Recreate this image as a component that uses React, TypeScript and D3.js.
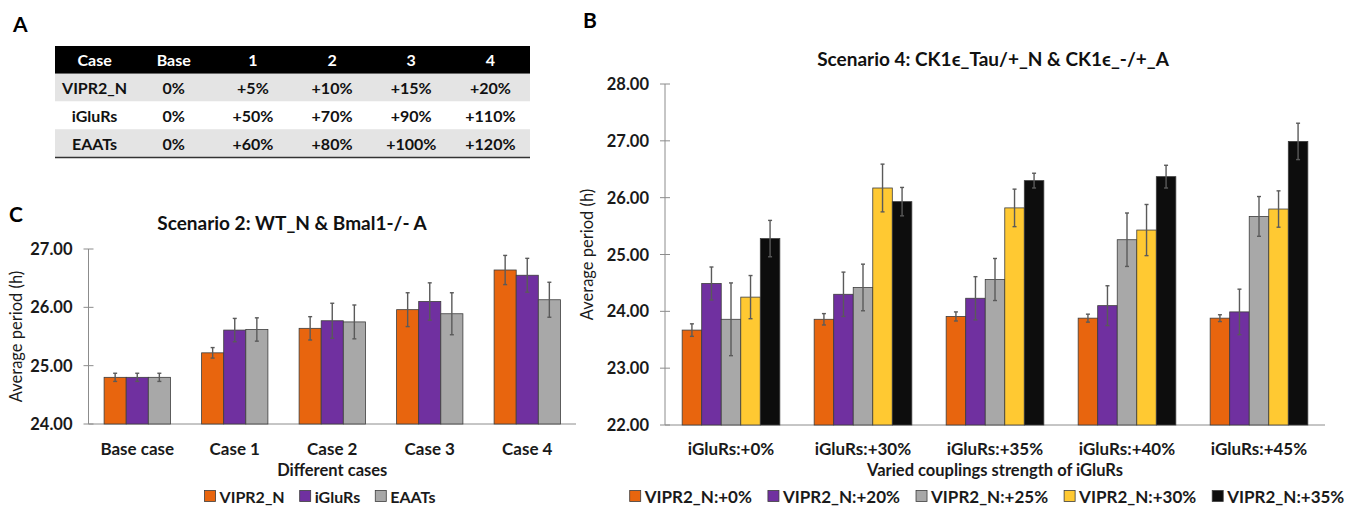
import React, { useEffect, useRef } from "react";
import * as d3 from "d3";

const W = 1366,
  H = 512;
const FONT = "Lato, 'Open Sans', sans-serif";

// panel A table
const tableHead = ["Case", "Base", "1", "2", "3", "4"];
const tableVipr2 = ["VIPR2_N", "0%", "+5%", "+10%", "+15%", "+20%"];
const tableIglurs = ["iGluRs", "0%", "+50%", "+70%", "+90%", "+110%"];
const tableEaats = ["EAATs", "0%", "+60%", "+80%", "+100%", "+120%"];

// panel C
const casesC = ["Base case", "Case 1", "Case 2", "Case 3", "Case 4"];
const seriesC = ["VIPR2_N", "iGluRs", "EAATs"];
const vipr2C = [24.8, 25.22, 25.64, 25.96, 26.64];
const vipr2ErrC = [0.07, 0.09, 0.2, 0.29, 0.25];
const iglursC = [24.8, 25.61, 25.77, 26.1, 26.55];
const iglursErrC = [0.07, 0.2, 0.3, 0.32, 0.29];
const eaatsC = [24.8, 25.62, 25.75, 25.89, 26.13];
const eaatsErrC = [0.07, 0.2, 0.29, 0.36, 0.3];
const ticksC = [24, 25, 26, 27];
const colorsC = ["#E8650E", "#7030A0", "#A8A8A8"];

// panel B
const groupsB = ["iGluRs:+0%", "iGluRs:+30%", "iGluRs:+35%", "iGluRs:+40%", "iGluRs:+45%"];
const seriesB = ["VIPR2_N:+0%", "VIPR2_N:+20%", "VIPR2_N:+25%", "VIPR2_N:+30%", "VIPR2_N:+35%"];
const v0B = [23.67, 23.86, 23.91, 23.88, 23.88];
const v0ErrB = [0.11, 0.1, 0.08, 0.07, 0.06];
const v20B = [24.49, 24.3, 24.23, 24.1, 23.99];
const v20ErrB = [0.29, 0.39, 0.38, 0.35, 0.4];
const v25B = [23.86, 24.42, 24.56, 25.26, 25.67];
const v25ErrB = [0.64, 0.41, 0.37, 0.47, 0.35];
const v30B = [24.25, 26.17, 25.82, 25.43, 25.8];
const v30ErrB = [0.38, 0.42, 0.33, 0.45, 0.32];
const v35B = [25.28, 25.93, 26.3, 26.37, 26.99];
const v35ErrB = [0.32, 0.25, 0.13, 0.2, 0.32];
const ticksB = [22, 23, 24, 25, 26, 27, 28];
const colorsB = ["#E8650E", "#7030A0", "#A8A8A8", "#FFC932", "#0D0D0D"];

type Panel = {
  groups: string[];
  series: string[];
  values: number[][];
  errors: number[][];
  colors: string[];
  ticks: number[];
  xRange: [number, number];
  yRange: [number, number];
  padding: number;
  title: string;
  titleX: number;
  titleY: number;
  xTitle: string;
  yTitleX: number;
  legendCx: number;
  legendGap: number;
  legendSize: number;
};

function drawPanel(svg: any, p: Panel) {
  const x0 = d3.scaleBand().domain(p.groups).range(p.xRange).paddingInner(p.padding).paddingOuter(p.padding / 2);
  const x1 = d3.scaleBand().domain(p.series).range([0, x0.bandwidth()]);
  const y = d3
    .scaleLinear()
    .domain([p.ticks[0], p.ticks[p.ticks.length - 1]])
    .range(p.yRange);

  const g = svg.append("g").attr("font-family", FONT);

  // axes
  const yAxis = g.append("g").attr("transform", `translate(${p.xRange[0]},0)`);
  yAxis
    .append("line")
    .attr("y1", p.yRange[0])
    .attr("y2", p.yRange[1])
    .attr("stroke", "#8c8c8c")
    .attr("stroke-width", 1);
  const tk = yAxis
    .selectAll("g.tick")
    .data(p.ticks)
    .join("g")
    .attr("transform", (d: number) => `translate(0,${y(d)})`);
  tk.append("line").attr("x1", -5).attr("x2", 5).attr("stroke", "#8c8c8c");
  tk
    .append("text")
    .attr("x", -16)
    .attr("text-anchor", "end")
    .attr("dominant-baseline", "central")
    .attr("font-size", 16.5)
    .attr("font-weight", "bold")
    .attr("fill", "#1a1a1a")
    .text((d: number) => d3.format(".2f")(d));

  g.append("line")
    .attr("x1", p.xRange[0])
    .attr("x2", p.xRange[1])
    .attr("y1", p.yRange[0])
    .attr("y2", p.yRange[0])
    .attr("stroke", "#8c8c8c");

  // bars
  const grp = g
    .selectAll("g.grp")
    .data(p.groups)
    .join("g")
    .attr("transform", (d: string) => `translate(${x0(d)},0)`);

  const cells = (d: string, gi: number) =>
    p.series.map((s, si) => ({ s, si, v: p.values[si][gi], e: p.errors[si][gi] }));

  grp
    .selectAll("rect")
    .data(cells)
    .join("rect")
    .attr("x", (d: any) => x1(d.s))
    .attr("y", (d: any) => y(d.v))
    .attr("width", x1.bandwidth())
    .attr("height", (d: any) => p.yRange[0] - y(d.v))
    .attr("fill", (d: any) => p.colors[d.si])
    .attr("stroke", "#3d3d3d")
    .attr("stroke-width", 0.8);

  const eb = grp
    .selectAll("g.err")
    .data(cells)
    .join("g")
    .attr("stroke", "#5a5a5a")
    .attr("stroke-width", 1.4);
  const cx = (d: any) => (x1(d.s) as number) + x1.bandwidth() / 2;
  eb.append("line")
    .attr("x1", cx)
    .attr("x2", cx)
    .attr("y1", (d: any) => y(d.v + d.e))
    .attr("y2", (d: any) => y(d.v - d.e));
  eb.append("line")
    .attr("x1", (d: any) => cx(d) - 2)
    .attr("x2", (d: any) => cx(d) + 2)
    .attr("y1", (d: any) => y(d.v + d.e))
    .attr("y2", (d: any) => y(d.v + d.e));
  eb.append("line")
    .attr("x1", (d: any) => cx(d) - 2)
    .attr("x2", (d: any) => cx(d) + 2)
    .attr("y1", (d: any) => y(d.v - d.e))
    .attr("y2", (d: any) => y(d.v - d.e));

  // x labels
  g.selectAll("text.xl")
    .data(p.groups)
    .join("text")
    .attr("x", (d: string) => (x0(d) as number) + x0.bandwidth() / 2)
    .attr("y", 448)
    .attr("text-anchor", "middle")
    .attr("dominant-baseline", "central")
    .attr("font-size", 17)
    .attr("font-weight", "bold")
    .attr("fill", "#1a1a1a")
    .text((d: string) => d);

  const midX = (p.xRange[0] + p.xRange[1]) / 2;
  g.append("text")
    .attr("x", midX)
    .attr("y", 470)
    .attr("text-anchor", "middle")
    .attr("dominant-baseline", "central")
    .attr("font-size", 16.5)
    .attr("font-weight", "bold")
    .attr("fill", "#1a1a1a")
    .text(p.xTitle);

  const midY = (p.yRange[0] + p.yRange[1]) / 2;
  g.append("text")
    .attr("transform", `translate(${p.yTitleX},${midY}) rotate(-90)`)
    .attr("text-anchor", "middle")
    .attr("dominant-baseline", "central")
    .attr("font-size", 16.5)
    .attr("fill", "#1a1a1a")
    .text("Average period (h)");

  g.append("text")
    .attr("x", p.titleX)
    .attr("y", p.titleY)
    .attr("text-anchor", "middle")
    .attr("dominant-baseline", "central")
    .attr("font-size", 19)
    .attr("font-weight", "bold")
    .attr("fill", "#111")
    .text(p.title);

  // legend
  const leg = g.append("g");
  let lx = 0;
  p.series.forEach((s, i) => {
    leg
      .append("rect")
      .attr("x", lx)
      .attr("y", -5.5)
      .attr("width", 11)
      .attr("height", 11)
      .attr("fill", p.colors[i])
      .attr("stroke", "#3d3d3d")
      .attr("stroke-width", 0.8);
    const t = leg
      .append("text")
      .attr("x", lx + 15)
      .attr("dominant-baseline", "central")
      .attr("font-size", p.legendSize)
      .attr("font-weight", "bold")
      .attr("fill", "#1a1a1a")
      .text(s);
    lx += 15 + (t.node() as SVGTextElement).getComputedTextLength() + p.legendGap;
  });
  lx -= p.legendGap;
  leg.attr("transform", `translate(${p.legendCx - lx / 2},496)`);
}

function App() {
  const ref = useRef<SVGSVGElement>(null);

  useEffect(() => {
    const svg = d3.select(ref.current);
    svg.selectAll("*").remove();

    // panel letters
    const letters: [string, number, number][] = [
      ["A", 13, 23],
      ["B", 583, 19],
      ["C", 9, 213],
    ];
    svg
      .append("g")
      .selectAll("text")
      .data(letters)
      .join("text")
      .attr("x", (d) => d[1])
      .attr("y", (d) => d[2])
      .attr("dominant-baseline", "central")
      .attr("font-family", FONT)
      .attr("font-size", 21)
      .attr("font-weight", "bold")
      .text((d) => d[0]);

    // table A
    const rows = [tableVipr2, tableIglurs, tableEaats];
    const cx = d3.scaleBand().domain(tableHead).range([55, 530]);
    const ry = d3.scaleBand().domain(["h", "0", "1", "2"]).range([46, 157]);
    const tg = svg.append("g").attr("font-family", FONT).attr("font-size", 16).attr("font-weight", "bold");
    tg.append("rect")
      .attr("x", 55)
      .attr("y", ry("h"))
      .attr("width", 475)
      .attr("height", ry.bandwidth())
      .attr("fill", "#000");
    rows.forEach((r, i) => {
      tg.append("rect")
        .attr("x", 55)
        .attr("y", ry(String(i)))
        .attr("width", 475)
        .attr("height", ry.bandwidth())
        .attr("fill", i % 2 === 0 ? "#E4E4E4" : "#fff");
    });
    tg.append("line")
      .attr("x1", 55)
      .attr("x2", 530)
      .attr("y1", 157.5)
      .attr("y2", 157.5)
      .attr("stroke", "#333")
      .attr("stroke-width", 1.5);
    tg.selectAll("text.h")
      .data(tableHead)
      .join("text")
      .attr("x", (d) => (cx(d) as number) + cx.bandwidth() / 2)
      .attr("y", (ry("h") as number) + ry.bandwidth() / 2)
      .attr("text-anchor", "middle")
      .attr("dominant-baseline", "central")
      .attr("fill", "#fff")
      .text((d) => d);
    rows.forEach((r, i) => {
      r.forEach((v, j) => {
        tg.append("text")
          .attr("x", (cx(tableHead[j]) as number) + cx.bandwidth() / 2)
          .attr("y", (ry(String(i)) as number) + ry.bandwidth() / 2)
          .attr("text-anchor", "middle")
          .attr("dominant-baseline", "central")
          .attr("fill", "#111")
          .text(v);
      });
    });

    drawPanel(svg, {
      groups: casesC,
      series: seriesC,
      values: [vipr2C, iglursC, eaatsC],
      errors: [vipr2ErrC, iglursErrC, eaatsErrC],
      colors: colorsC,
      ticks: ticksC,
      xRange: [88.5, 576],
      yRange: [424, 249],
      padding: 0.32,
      title: "Scenario 2: WT_N & Bmal1-/- A",
      titleX: 292,
      titleY: 222,
      xTitle: "Different cases",
      yTitleX: 16,
      legendCx: 320,
      legendGap: 15,
      legendSize: 16,
    });

    drawPanel(svg, {
      groups: groupsB,
      series: seriesB,
      values: [v0B, v20B, v25B, v30B, v35B],
      errors: [v0ErrB, v20ErrB, v25ErrB, v30ErrB, v35ErrB],
      colors: colorsB,
      ticks: ticksB,
      xRange: [665, 1325],
      yRange: [425, 84],
      padding: 0.26,
      title: "Scenario 4: CK1\u03f5_Tau/+_N  & CK1\u03f5_-/+_A",
      titleX: 993,
      titleY: 58,
      xTitle: "Varied couplings strength of iGluRs",
      yTitleX: 587,
      legendCx: 987,
      legendGap: 16,
      legendSize: 17,
    });
  }, []);

  return (
    <svg
      ref={ref}
      width={W}
      height={H}
      style={{ position: "absolute", left: 0, top: 0, background: "#fff" }}
    />
  );
}

export default App;
